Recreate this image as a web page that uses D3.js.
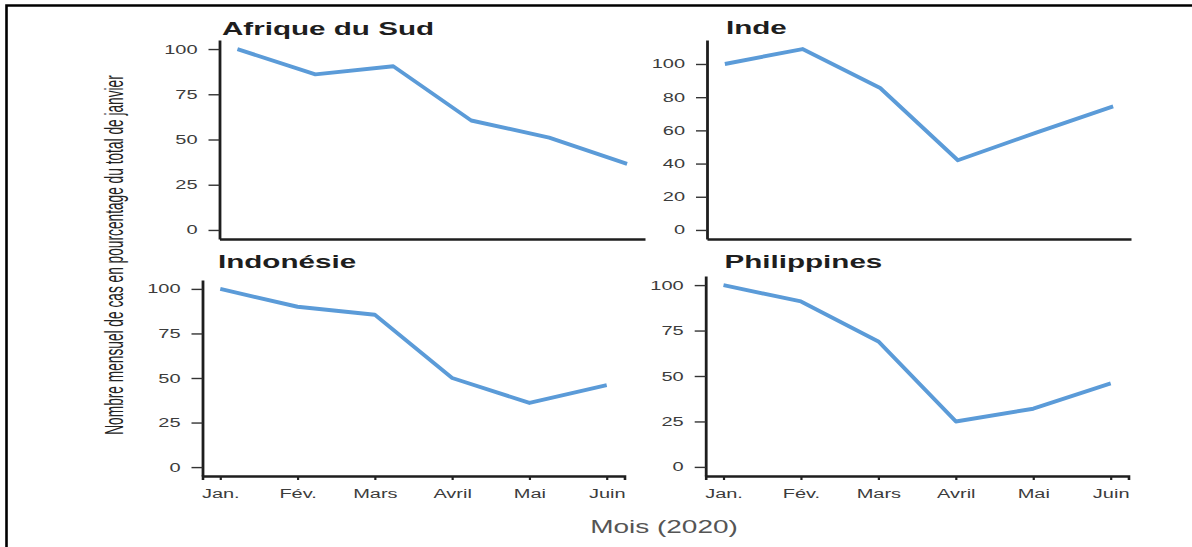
<!DOCTYPE html>
<html>
<head>
<meta charset="utf-8">
<script src="https://cdn.jsdelivr.net/npm/d3@7"></script>
<style>
  html, body { margin: 0; padding: 0; background: #fff; }
  svg { display: block; font-family: "Liberation Sans", Arial, sans-serif; }
</style>
</head>
<body>
<svg id="chart" width="1192" height="547"></svg>
<script>
// ---- data ----
const months = ["Jan.", "Fév.", "Mars", "Avril", "Mai", "Juin"];
const countries = ["Afrique du Sud", "Inde", "Indonésie", "Philippines"];
const afriqueDuSud = [100, 86, 90.5, 60.5, 51, 36.5];
const inde = [100, 109, 85.5, 42, 58.5, 74.5];
const indonesie = [100, 90, 85.5, 50, 36, 46];
const philippines = [100, 91, 69, 25, 32, 46];
const ticks25 = [0, 25, 50, 75, 100];
const ticks20 = [0, 20, 40, 60, 80, 100];
const yTitle = "Nombre mensuel de cas en pourcentage du total de janvier";
const xTitle = "Mois (2020)";

// ---- layout ----
const F = 1.6; // horizontal text stretch
const lineColor = "#5b9bd8";
const panels = [
  { name: countries[0], vals: afriqueDuSud, ticks: ticks25, x0: 219.5, x1: 645,   y0: 40,  y1: 239, tx: 222,   ty: 35,  showX: false },
  { name: countries[1], vals: inde,         ticks: ticks20, x0: 707,   x1: 1131,  y0: 40,  y1: 239, tx: 726,   ty: 34,  showX: false },
  { name: countries[2], vals: indonesie,    ticks: ticks25, x0: 202.5, x1: 624.5, y0: 280, y1: 476, tx: 218,   ty: 268, showX: true },
  { name: countries[3], vals: philippines,  ticks: ticks25, x0: 705.7, x1: 1128.5,y0: 276, y1: 476, tx: 724.5, ty: 268, showX: true }
];

const svg = d3.select("#chart");

// frame (left and top)
svg.append("path")
  .attr("d", "M6.5,547 V5.5 H1192")
  .attr("fill", "none").attr("stroke", "#000").attr("stroke-width", 2.6);

panels.forEach(p => {
  const maxV = Math.max(d3.max(p.vals), 0);
  const minV = Math.min(d3.min(p.vals), 0);
  const r = maxV - minV;
  const y = d3.scaleLinear().domain([minV - 0.05 * r, maxV + 0.05 * r]).range([p.y1, p.y0]);
  const x = d3.scalePoint().domain(months).range([p.x0, p.x1]).padding(0.23);

  // title
  svg.append("text")
    .attr("transform", `translate(${p.tx},${p.ty}) scale(${F},1)`)
    .attr("font-size", 18.5).attr("font-weight", "bold").attr("fill", "#1e1e1e")
    .text(p.name);

  // line
  const line = d3.line().x((d, i) => x(months[i])).y(d => y(d));
  svg.append("path")
    .datum(p.vals)
    .attr("d", line)
    .attr("fill", "none").attr("stroke", lineColor)
    .attr("stroke-width", 3.9).attr("stroke-linejoin", "round");

  // y axis
  const gy = svg.append("g")
    .attr("transform", `translate(${p.x0},0)`)
    .call(d3.axisLeft(y).tickValues(p.ticks).tickSize(11).tickSizeOuter(0).tickPadding(11));
  gy.select(".domain").attr("stroke", "#1e1e1e").attr("stroke-width", 2.8);
  gy.selectAll(".tick line").attr("stroke", "#333").attr("stroke-width", 1.4);
  gy.selectAll(".tick text")
    .attr("x", -22 / F)
    .attr("transform", `scale(${F},1)`)
    .attr("font-size", 12.5).attr("fill", "#3c3c3c")
    .attr("font-family", "Liberation Sans, Arial, sans-serif");

  // x axis
  const ax = d3.axisBottom(x).tickSizeOuter(0);
  if (p.showX) ax.tickSize(4).tickPadding(9); else ax.tickSize(0).tickFormat("");
  const gx = svg.append("g")
    .attr("transform", `translate(0,${p.y1})`)
    .call(ax);
  gx.select(".domain").attr("stroke", "#1e1e1e").attr("stroke-width", 2.6);
  gx.selectAll(".tick line").attr("stroke", "#222").attr("stroke-width", 2.2);
  gx.selectAll(".tick text")
    .attr("transform", `scale(${F},1)`)
    .attr("font-size", 12.5).attr("fill", "#3c3c3c")
    .attr("font-family", "Liberation Sans, Arial, sans-serif");
});

// y title (condensed along its length, stretched in glyph height)
const yt = svg.append("text")
  .attr("text-anchor", "middle")
  .attr("font-size", 16.5).attr("fill", "#222")
  .text(yTitle);
const natural = yt.node().getComputedTextLength();
yt.attr("transform", `translate(123,255) rotate(-90) scale(${360 / natural},${F})`);

// x title
svg.append("text")
  .attr("transform", `translate(664,533) scale(${F},1)`)
  .attr("text-anchor", "middle")
  .attr("font-size", 17.5).attr("fill", "#555")
  .text(xTitle);
</script>
</body>
</html>
